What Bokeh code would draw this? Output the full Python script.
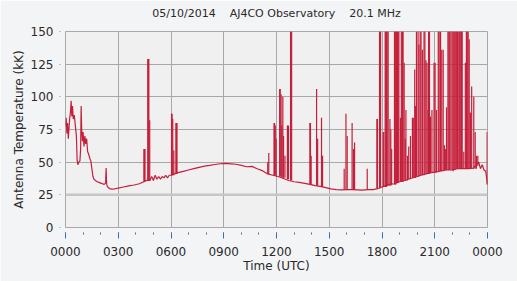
from bokeh.plotting import figure
from bokeh.models import FixedTicker, Span, Range1d, Title
from bokeh.embed import file_html
from bokeh.resources import INLINE

title_text = "05/10/2014\u00a0 \u00a0 AJ4CO Observatory\u00a0 \u00a0 20.1 MHz"
x_ticks = [0, 3, 6, 9, 12, 15, 18, 21, 24]
x_minor = list(range(0, 25))
x_tick_labels = ["0000", "0300", "0600", "0900", "1200", "1500", "1800", "2100", "0000"]
y_ticks = [0, 25, 50, 75, 100, 125, 150]
y_grid = [50, 75, 100, 125]
y_band = 25

# baseline trace, 0000-0300 (hours UTC, kK)
night_t = [0.00, 0.04, 0.08, 0.12, 0.16, 0.20, 0.24, 0.28, 0.32, 0.36,
           0.40, 0.44, 0.50, 0.56, 0.62, 0.66, 0.70, 0.76, 0.82, 0.86,
           0.89, 0.92, 0.96, 1.00, 1.05, 1.10, 1.15, 1.20, 1.26, 1.32,
           1.38, 1.44, 1.50, 1.56, 1.62, 1.70, 1.80, 1.90, 2.00, 2.10,
           2.20, 2.28, 2.31, 2.34, 2.40, 2.50, 2.65, 2.80, 3.00]
night_v = [78, 84, 72, 80, 68, 76, 84, 88, 97, 85,
           93, 83, 86, 78, 70, 52, 48, 50, 51, 60,
           93, 75, 66, 73, 62, 70, 64, 68, 58, 56,
           53, 51, 45, 39, 37, 36, 35, 34.5, 34, 33.5,
           33, 34, 45.6, 33, 31, 29.8, 29.4, 29.6, 30.2]

# baseline trace, 0300-2400
day_t = [3.3, 3.6, 3.9, 4.2, 4.45, 4.6, 4.8, 4.9, 5.0, 5.1,
         5.2, 5.3, 5.4, 5.5, 5.6, 5.7, 5.8, 5.9, 6.0, 6.2,
         6.4, 6.7, 7.0, 7.3, 7.6, 7.9, 8.2, 8.5, 8.8, 9.1,
         9.4, 9.7, 10.0, 10.3, 10.6, 10.9, 11.2, 11.5, 11.8, 12.1,
         12.4, 12.7, 13.0, 13.3, 13.6, 13.9, 14.2, 14.5, 14.8, 15.1,
         15.4, 15.7, 16.0, 16.3, 16.6, 16.9, 17.2, 17.5, 17.8, 18.1,
         18.4, 18.7, 19.0, 19.3, 19.6, 19.9, 20.2, 20.5, 20.8, 21.1,
         21.4, 21.7, 22.0, 22.3, 22.6, 22.9, 23.2, 23.5, 23.6, 23.7,
         23.8, 23.9, 24.0]
day_v = [31, 31.8, 32.5, 33.5, 35, 36, 36, 39, 36, 40,
         37, 39, 37, 39, 38, 40, 38, 40, 40, 41,
         42, 43, 44, 45, 46, 47, 47.5, 48.2, 48.8, 49,
         48.7, 48.4, 47.5, 46.5, 46.8, 45, 43.5, 41, 40, 39,
         37.5, 36, 35, 34.5, 33.8, 33, 32, 31.5, 30.5, 29.5,
         29, 28.8, 29, 29, 28.8, 28.6, 29, 29, 30, 31.5,
         33, 33.5, 35, 36, 37.5, 38.5, 40, 41, 42, 42.5,
         43.5, 44, 44, 45, 45, 45, 45.5, 50, 45, 48,
         44, 43, 33]

# bursts: time, level before burst, peak (clipped at 150)
spike_t = [4.46, 4.49, 4.52, 4.68, 4.71, 4.74, 4.79, 6.03, 6.06, 6.10,
           6.16, 6.28, 6.31, 6.34, 11.50, 11.56, 11.86, 11.89, 11.93, 11.98,
           12.18, 12.21, 12.26, 12.30, 12.36, 12.40, 12.48, 12.62, 12.68, 12.80,
           12.86, 13.90, 13.93, 13.97, 14.28, 14.34, 14.56, 14.62, 15.85, 15.95,
           16.02, 16.30, 16.38, 16.44, 17.16, 17.71, 17.74, 17.86, 17.89, 17.92,
           18.07, 18.10, 18.18, 18.22, 18.26, 18.29, 18.45, 18.50, 18.55, 18.71,
           18.75, 18.79, 18.82, 18.88, 18.92, 18.96, 19.05, 19.16, 19.20, 19.26,
           19.32, 19.36, 19.45, 19.52, 19.62, 19.73, 19.78, 19.86, 19.90, 19.96,
           20.05, 20.10, 20.17, 20.22, 20.30, 20.39, 20.44, 20.50, 20.56, 20.62,
           20.70, 20.76, 20.84, 20.96, 21.02, 21.10, 21.20, 21.25, 21.33, 21.40,
           21.48, 21.55, 21.62, 21.67, 21.75, 21.80, 21.85, 21.92, 21.99, 22.05,
           22.10, 22.15, 22.20, 22.25, 22.30, 22.37, 22.42, 22.48, 22.52, 22.56,
           22.65, 22.74, 22.80, 22.85, 22.90, 22.96, 23.03, 23.10, 23.22, 23.30,
           23.37, 23.45, 23.98, 18.35, 19.10, 20.65]
spike_lo = [35, 35, 35, 36, 36, 36, 36, 40, 40, 40,
            40, 41, 41, 41, 41, 41, 40, 40, 40, 39,
            39, 39, 39, 38, 38, 38, 38, 37, 37, 36,
            36, 33, 33, 33, 32, 32, 31, 31, 29, 29,
            29, 29, 29, 29, 29, 30, 30, 30, 30, 31,
            31, 31, 31, 31, 31, 32, 32, 32, 33, 33,
            33, 33, 34, 34, 34, 35, 35, 35, 35, 36,
            36, 36, 36, 37, 37, 38, 38, 38, 38, 39,
            39, 39, 40, 40, 40, 40, 41, 41, 41, 41,
            41, 42, 42, 42, 42, 42, 43, 43, 43, 43,
            43, 44, 44, 44, 44, 44, 44, 44, 44, 43,
            44, 44, 45, 45, 45, 45, 45, 45, 45, 45,
            45, 45, 45, 45, 45, 45, 45, 45, 45, 45,
            45, 47, 33, 32, 35, 41]
spike_hi = [60, 60, 60, 129, 129, 129, 82, 87, 87, 83,
            59, 80, 80, 80, 50, 57, 80, 80, 78, 68,
            106, 106, 102, 78, 100, 70, 55, 78, 78, 150,
            150, 80, 80, 55, 106, 68, 84, 55, 45, 87,
            70, 80, 60, 65, 45, 83, 83, 150, 134, 150,
            73, 73, 150, 150, 150, 150, 83, 75, 60, 150,
            150, 150, 150, 150, 150, 150, 84, 150, 150, 126,
            68, 90, 55, 62, 70, 84, 84, 121, 93, 150,
            150, 140, 150, 150, 136, 150, 150, 128, 126, 90,
            150, 85, 90, 126, 126, 90, 150, 150, 150, 136,
            136, 63, 60, 92, 150, 150, 150, 150, 150, 150,
            150, 150, 150, 150, 150, 150, 150, 150, 150, 150,
            58, 126, 150, 150, 150, 144, 88, 108, 100, 73,
            55, 55, 73, 150, 150, 150]

assert len(night_t) == len(night_v)
assert len(day_t) == len(day_v)
assert len(spike_t) == len(spike_lo) == len(spike_hi)

LINE = "#c41f3a"
FONT = "DejaVu Sans"
TXT = "#2a2a2a"

p = figure(width=517, height=281, x_range=Range1d(0, 24), y_range=Range1d(0, 150),
           output_backend="svg", toolbar_location=None,
           min_border_left=65, min_border_right=30, min_border_top=30, min_border_bottom=54)

p.background_fill_color = "#f0f0f0"
p.border_fill_color = "#f3f4f6"
p.outline_line_color = "#a8a8a8"
p.outline_line_width = 1

p.title.text = title_text
p.title.align = "center"
p.title.text_font = FONT
p.title.text_font_size = "11px"
p.title.text_font_style = "normal"
p.title.text_color = TXT
p.title.standoff = 8

# thin empty spacer between the frame and the title
p.add_layout(Title(text=" ", text_font_size="5px", standoff=0), "above")

p.line(night_t + day_t, night_v + day_v, line_color=LINE, line_width=1.2)
p.segment(x0=spike_t, y0=spike_lo, x1=spike_t, y1=spike_hi, line_color=LINE, line_width=1.2)

p.add_layout(Span(location=y_band, dimension="width", line_color="#c6c6c6", line_width=2.5))

xt = FixedTicker(ticks=x_ticks, minor_ticks=x_minor)
p.xaxis.ticker = xt
p.xaxis.major_label_overrides = {t: l for t, l in zip(x_ticks, x_tick_labels)}
p.xaxis.axis_line_color = None
p.xaxis.major_tick_line_color = "#3d6ea6"
p.xaxis.minor_tick_line_color = "#3d6ea6"
p.xaxis.major_tick_in = -5
p.xaxis.major_tick_out = 11
p.xaxis.minor_tick_in = -5
p.xaxis.minor_tick_out = 7
p.xaxis.major_label_standoff = 8
p.xaxis.axis_label = "Time (UTC)"
p.xaxis.axis_label_standoff = 0

p.yaxis.ticker = FixedTicker(ticks=y_ticks, minor_ticks=[])
p.yaxis.axis_line_color = None
p.yaxis.major_tick_line_color = "#8a8a8a"
p.yaxis.major_tick_in = -5
p.yaxis.major_tick_out = 6
p.yaxis.major_label_standoff = 6
p.yaxis.axis_label = "Antenna Temperature (kK)"
p.yaxis.axis_label_standoff = 2

for ax in (p.xaxis, p.yaxis):
    ax.major_label_text_font = FONT
    ax.major_label_text_font_size = "12px"
    ax.major_label_text_color = TXT
    ax.axis_label_text_font = FONT
    ax.axis_label_text_font_size = "12px"
    ax.axis_label_text_font_style = "normal"
    ax.axis_label_text_color = TXT

p.xgrid.ticker = xt
p.xgrid.grid_line_color = "#a8a8a8"
p.ygrid.ticker = FixedTicker(ticks=y_grid)
p.ygrid.grid_line_color = "#a8a8a8"

open("out.html", "w").write(file_html(p, INLINE))
